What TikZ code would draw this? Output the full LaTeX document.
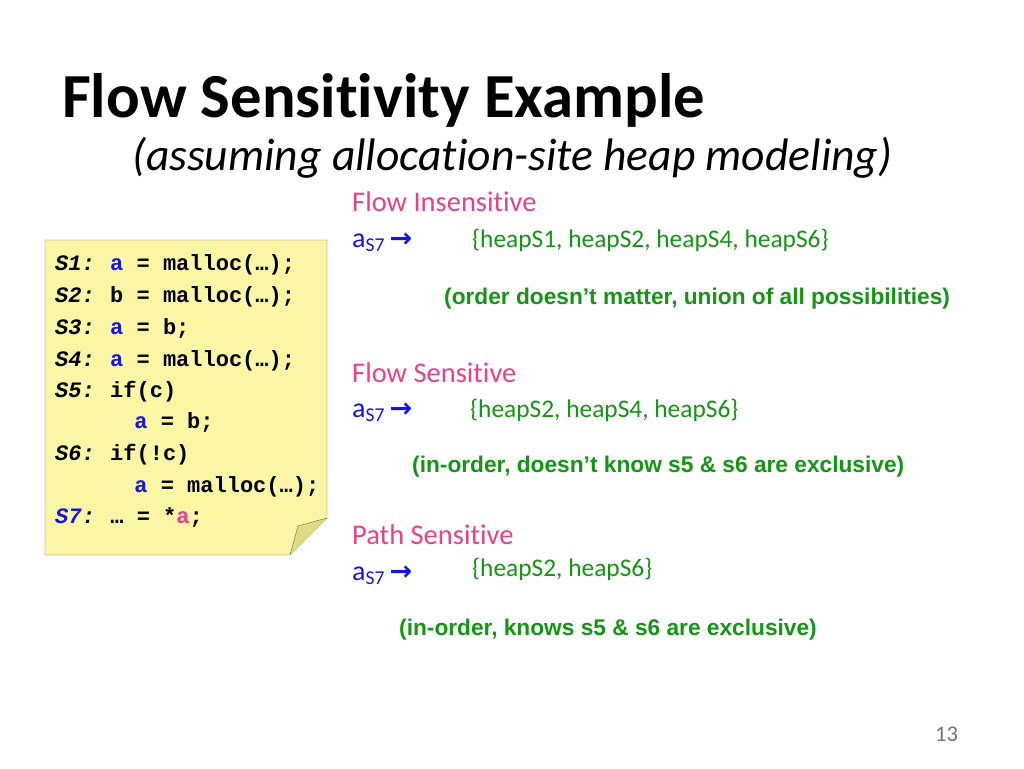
\documentclass[tikz,border=0pt]{standalone}
\usepackage{fontspec}
\setmainfont{Carlito}[Ligatures=NoCommon]
\newfontfamily\notefont{Liberation Sans}
\newfontfamily\codefont{Liberation Mono}
\newfontfamily\arrowfont{DejaVu Sans}
\definecolor{pinkhd}{RGB}{233,64,140}
\definecolor{greentx}{RGB}{20,150,20}
\definecolor{bluetx}{RGB}{20,20,230}
\definecolor{notebg}{RGB}{250,246,165}
\definecolor{notefold}{RGB}{225,220,130}
\tikzset{
  txt/.style={anchor=base west, inner sep=0pt},
  code line/.style={txt, font=\codefont\bfseries\fontsize{22}{22}\selectfont},
  head/.style={txt, text=pinkhd, font=\fontsize{28.5}{28.5}\selectfont},
  set/.style={txt, text=greentx, font=\fontsize{25.4}{25.4}\selectfont},
  ptr/.style={txt, text=bluetx, font=\fontsize{28}{28}\selectfont},
  remark/.style={txt, text=greentx, font=\notefont\bfseries\fontsize{22.7}{22.7}\selectfont},
}
\newcommand{\va}{\textcolor{bluetx}{a}}
\newcommand{\lbl}[1]{\textit{#1}}
\newcommand{\pto}{\,{\arrowfont\bfseries\fontsize{27}{27}\selectfont →}}
\begin{document}
\begin{tikzpicture}[x=1pt, y=-1pt]
  \useasboundingbox[fill=white] (0,0) rectangle (1024,768);
  % title
  \node[txt, font=\bfseries\fontsize{62.7}{62.7}\selectfont] (title) at (62,117) {Flow Sensitivity Example};
  \node[txt, font=\itshape\fontsize{45.6}{45.6}\selectfont] (subtitle) at (132,170) {(assuming allocation-site heap modeling)};
  % code note
  \draw[fill=notebg, draw=black!60] (45,240) -- (327,240) -- (327,518) -- (290,555) -- (45,555) -- cycle;
  \draw[fill=notefold, draw=black!60] (290,555) -- (298,526) -- (327,518);
  \node[code line] (s1) at (55,270) {\lbl{S1:}\hspace{-0.1em} \va{} = malloc(…);};
  \node[code line] (s2) at (55,302) {\lbl{S2:}\hspace{-0.1em} b = malloc(…);};
  \node[code line] (s3) at (55,334) {\lbl{S3:}\hspace{-0.1em} \va{} = b;};
  \node[code line] (s4) at (55,366) {\lbl{S4:}\hspace{-0.1em} \va{} = malloc(…);};
  \node[code line] (s5) at (55,397) {\lbl{S5:}\hspace{-0.1em} if(c)};
  \node[code line] (s5b) at (55,428) {\hspace*{3.6em}\va{} = b;};
  \node[code line] (s6) at (55,460) {\lbl{S6:}\hspace{-0.1em} if(!c)};
  \node[code line] (s6b) at (55,492) {\hspace*{3.6em}\va{} = malloc(…);};
  \node[code line] (s7) at (55,523) {\textcolor{bluetx}{\lbl{S7}}\lbl{:}\hspace{-0.1em} … = *\textcolor{pinkhd}{a};};
  % flow insensitive
  \node[head] (fi) at (352,211) {Flow Insensitive};
  \node[ptr] (fip) at (352,247) {a\textsubscript{S7}\pto};
  \node[set] (fis) at (472,247) {\{heapS1, heapS2, heapS4, heapS6\}};
  \node[remark] (fir) at (444,304) {(order doesn’t matter, union of all possibilities)};
  % flow sensitive
  \node[head] (fs) at (352,382) {Flow Sensitive};
  \node[ptr] (fsp) at (352,417) {a\textsubscript{S7}\pto};
  \node[set] (fss) at (470,417) {\{heapS2, heapS4, heapS6\}};
  \node[remark] (fsr) at (412,472) {(in-order, doesn’t know s5 \& s6 are exclusive)};
  % path sensitive
  \node[head] (ps) at (352,544) {Path Sensitive};
  \node[ptr] (psp) at (352,580) {a\textsubscript{S7}\pto};
  \node[set] (pss) at (472,576) {\{heapS2, heapS6\}};
  \node[remark] (psr) at (399,635) {(in-order, knows s5 \& s6 are exclusive)};
  % page number
  \node[txt, text=black!55, font=\fontsize{22.5}{22.5}\selectfont] (page) at (935,741) {13};
\end{tikzpicture}
\end{document}
